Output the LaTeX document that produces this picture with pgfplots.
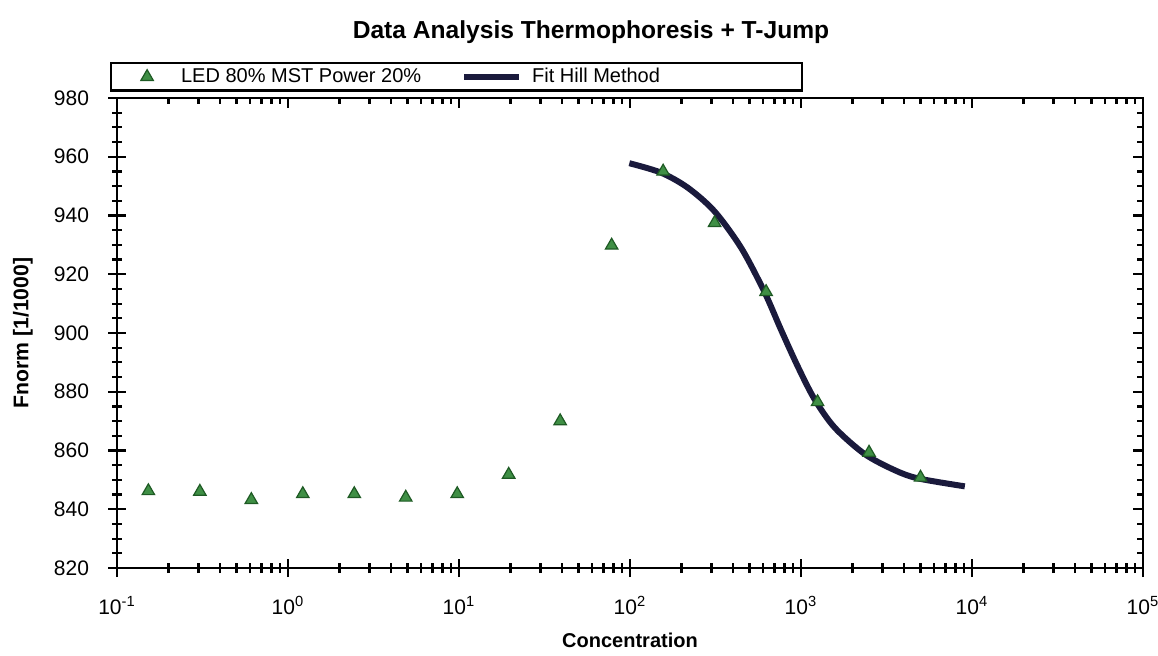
\documentclass[border=0pt]{standalone}
\usepackage{pgfplots}
\pgfplotsset{compat=1.18}
\usepackage{fontspec}
\setmainfont{Liberation Sans}
\definecolor{mkfill}{HTML}{3F8F45}
\definecolor{mkedge}{HTML}{1E5A24}
\definecolor{fitcol}{HTML}{1A1A3C}
\begin{document}
\begin{tikzpicture}
\useasboundingbox (-58.5pt,-43.5pt) rectangle (520.5pt,284pt);
% frame axis with inward ticks on top/right
\begin{axis}[
  at={(0,0)}, anchor=south west,
  scale only axis, width=513pt, height=235pt,
  xmode=log, xmin=0.1, xmax=100000, ymin=820, ymax=980,
  xtick={0.1,1,10,100,1000,10000,100000},
  ytick={820,840,...,980}, minor y tick num=3,
  xtick pos=right, ytick pos=right, tick align=inside,
  xticklabels={}, yticklabels={},
  major tick length=5pt, minor tick length=3pt,
  every tick/.style={black, line width=1.1pt},
  axis line style={line width=1.2pt},
]
\addplot[draw=none] coordinates {(1,900)};
\end{axis}
\begin{axis}[
  at={(0,0)}, anchor=south west,
  scale only axis, width=513pt, height=235pt,
  xmode=log, xmin=0.1, xmax=100000, ymin=820, ymax=980,
  xtick={0.1,1,10,100,1000,10000,100000},
  xticklabels={10\textsuperscript{-1},10\textsuperscript{0},10\textsuperscript{1},10\textsuperscript{2},10\textsuperscript{3},10\textsuperscript{4},10\textsuperscript{5}},
  ytick={820,840,...,980}, minor y tick num=3,
  yticklabels={820,840,860,880,900,920,940,960,980},
  xtick pos=left, ytick pos=left, tick align=center,
  major tick length=9pt, minor tick length=5pt,
  every tick/.style={black, line width=1.1pt},
  axis line style={line width=1.2pt},
  tick label style={font=\fontsize{10.5}{12}\selectfont},
  xticklabel style={yshift=-6pt},
  yticklabel style={xshift=-6pt},
  xlabel={\textbf{Concentration}},
  ylabel={\textbf{Fnorm [1/1000]}},
  every axis x label/.style={at={(axis description cs:0.5,-0.153)}, anchor=center, font=\fontsize{10}{12}\selectfont},
  every axis y label/.style={at={(axis description cs:-0.0916,0.5)}, rotate=90, anchor=center, font=\fontsize{10.6}{12}\selectfont},
  legend style={at={(axis description cs:-0.0068,1.0766)}, anchor=north west,
    draw=black, line width=1.1pt, font=\fontsize{10}{11}\selectfont,
    inner ysep=0.5pt, inner xsep=4pt,
    /tikz/every even column/.append style={column sep=18pt},
    /tikz/every odd column/.append style={column sep=3pt}},
  legend columns=2,
  legend cell align=left,
]
\addplot[only marks, mark=triangle*, mark size=3.6pt,
  mark options={fill=mkfill, draw=mkedge, line width=0.6pt},
  legend image code/.code={\path[draw=none, fill=none] (-14pt,-3pt) rectangle (12pt,3pt);
    \draw[mkedge, fill=mkfill, line width=0.6pt] plot[mark=triangle*, mark size=3.6pt, only marks] coordinates {(0pt,0pt)};}]
coordinates {
(0.1526,846.2) (0.3052,846.0) (0.6104,843.2) (1.2207,845.2) (2.4414,845.2)
(4.8828,844.0) (9.7656,845.2) (19.531,851.8) (39.063,870.0) (78.125,929.8)
(156.25,955.0) (312.5,937.5) (625,914.0) (1250,876.5) (2500,859.3) (5000,850.8)
};
\addlegendentry{LED 80\% MST Power 20\%}
\addplot[fitcol, line width=3pt, smooth, tension=0.5,
  legend image code/.code={\draw[fitcol, line width=3pt] (0pt,0pt) -- (27.5pt,0pt);}]
coordinates {
(99.1,957.8) (151.7,954.6) (217.3,949.5) (311.2,941.5) (446.7,929.0)
(611,914.0) (765.6,901.0) (959.4,888.5) (1199,877.5) (1574,867.8)
(2355,858.8) (3532,853.3) (4842,850.5) (9078,847.8)
};
\addlegendentry{Fit Hill Method\rule{65pt}{0pt}}
\end{axis}
\node[font=\bfseries\fontsize{12.3}{14}\selectfont] at (237pt,268pt) {Data Analysis Thermophoresis + T-Jump};
\end{tikzpicture}
\end{document}
